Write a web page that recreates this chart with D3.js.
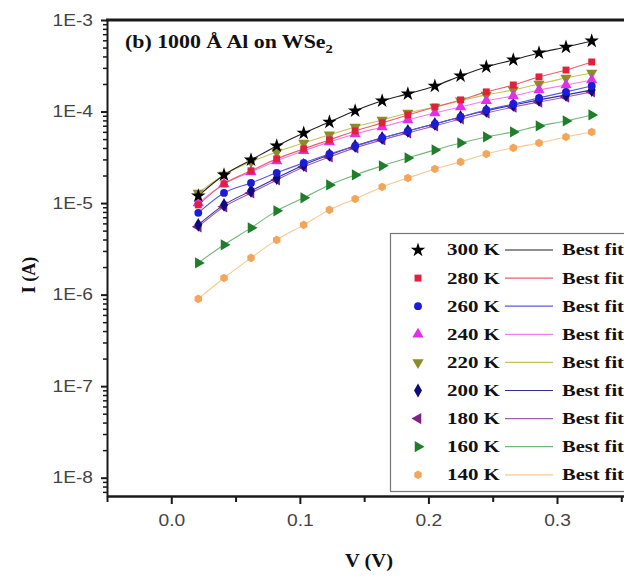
<!DOCTYPE html>
<html>
<head>
<meta charset="utf-8">
<script src="https://cdn.jsdelivr.net/npm/d3@7"></script>
<style>
  html, body { margin: 0; padding: 0; background: #fff; }
  svg { display: block; }
</style>
</head>
<body>
<svg id="chart" width="624" height="578"></svg>
<script>
// Bias voltage (V) of each measured point
const voltage = [0.021, 0.041, 0.062, 0.082, 0.103, 0.123, 0.143, 0.164,
                 0.184, 0.205, 0.225, 0.245, 0.266, 0.286, 0.307, 0.327];

// Current (A) at each temperature
const I300 = [1.20e-5, 2.03e-5, 2.96e-5, 4.21e-5, 5.83e-5, 7.69e-5, 1.02e-4, 1.31e-4,
              1.56e-4, 1.90e-4, 2.45e-4, 3.07e-4, 3.66e-4, 4.37e-4, 5.07e-4, 5.90e-4];
const I280 = [9.55e-6, 1.62e-5, 2.25e-5, 3.04e-5, 3.91e-5, 4.90e-5, 6.14e-5, 7.52e-5,
              9.18e-5, 1.12e-4, 1.34e-4, 1.64e-4, 1.95e-4, 2.39e-4, 2.84e-4, 3.48e-4];
const I260 = [7.82e-6, 1.29e-5, 1.66e-5, 2.14e-5, 2.75e-5, 3.44e-5, 4.21e-5, 5.15e-5,
              6.14e-5, 7.33e-5, 8.73e-5, 1.04e-4, 1.21e-4, 1.41e-4, 1.64e-4, 1.90e-4];
const I240 = [1.00e-5, 1.62e-5, 2.19e-5, 2.89e-5, 3.72e-5, 4.66e-5, 5.69e-5, 6.79e-5,
              8.09e-5, 9.66e-5, 1.12e-4, 1.31e-4, 1.48e-4, 1.72e-4, 1.95e-4, 2.21e-4];
const I220 = [1.29e-5, 2.03e-5, 2.82e-5, 3.62e-5, 4.54e-5, 5.56e-5, 6.79e-5, 8.09e-5,
              9.66e-5, 1.12e-4, 1.31e-4, 1.52e-4, 1.72e-4, 2.00e-4, 2.33e-4, 2.64e-4];
const I200 = [5.78e-6, 9.55e-6, 1.36e-5, 1.88e-5, 2.61e-5, 3.36e-5, 4.21e-5, 5.15e-5,
              6.14e-5, 7.33e-5, 8.73e-5, 1.02e-4, 1.18e-4, 1.34e-4, 1.52e-4, 1.72e-4];
const I180 = [5.50e-6, 9.10e-6, 1.29e-5, 1.79e-5, 2.48e-5, 3.19e-5, 4.01e-5, 4.90e-5,
              5.83e-5, 6.97e-5, 8.30e-5, 9.66e-5, 1.12e-4, 1.27e-4, 1.44e-4, 1.64e-4];
const I160 = [2.22e-6, 3.50e-6, 5.36e-6, 8.22e-6, 1.14e-5, 1.58e-5, 2.03e-5, 2.55e-5,
              3.11e-5, 3.81e-5, 4.54e-5, 5.28e-5, 5.98e-5, 6.97e-5, 7.89e-5, 9.18e-5];
const I140 = [8.99e-7, 1.52e-6, 2.52e-6, 3.96e-6, 5.78e-6, 8.43e-6, 1.11e-5, 1.50e-5,
              1.88e-5, 2.36e-5, 2.82e-5, 3.44e-5, 4.01e-5, 4.54e-5, 5.28e-5, 5.98e-5];

const temperatureLabels = ["300 K", "280 K", "260 K", "240 K", "220 K", "200 K", "180 K", "160 K", "140 K"];
const currents = [I300, I280, I260, I240, I220, I200, I180, I160, I140];
const fitLabel = "Best fit";

const yTickValues = [1e-8, 1e-7, 1e-6, 1e-5, 1e-4, 1e-3];
const yTickLabels = ["1E-8", "1E-7", "1E-6", "1E-5", "1E-4", "1E-3"];
const xTickValues = [0.0, 0.1, 0.2, 0.3];
const xTickLabels = ["0.0", "0.1", "0.2", "0.3"];
const xMinorValues = [-0.05, 0.05, 0.15, 0.25, 0.35];

// Marker styles, one per temperature
const symbolHexagon = {
  draw(ctx, size) {
    const r = Math.sqrt(size * 2 / (3 * Math.sqrt(3)));
    for (let i = 0; i < 6; i++) {
      const a = Math.PI / 3 * i + Math.PI / 6;
      const px = r * Math.cos(a), py = r * Math.sin(a);
      if (i === 0) ctx.moveTo(px, py); else ctx.lineTo(px, py);
    }
    ctx.closePath();
  }
};
const styles = [
  { color: "#000000", line: "#222222", type: d3.symbolStar,     size: 65, rot: 0 },
  { color: "#e0203c", line: "#e86070", type: d3.symbolSquare,   size: 48, rot: 0 },
  { color: "#1c1cd8", line: "#5a5ae0", type: d3.symbolCircle,   size: 48, rot: 0 },
  { color: "#e030e8", line: "#f080f0", type: d3.symbolTriangle, size: 55, rot: 0 },
  { color: "#8c8c28", line: "#c8c060", type: d3.symbolTriangle, size: 55, rot: 180 },
  { color: "#0c0c80", line: "#30309a", type: d3.symbolDiamond,  size: 55, rot: 0 },
  { color: "#80208a", line: "#a060b0", type: d3.symbolTriangle, size: 55, rot: -90 },
  { color: "#1e7e2a", line: "#70b878", type: d3.symbolTriangle, size: 55, rot: 90 },
  { color: "#f5a55a", line: "#f8c890", type: symbolHexagon,     size: 48, rot: 0 }
];

(function draw() {
  const svg = d3.select("#chart");
  const pLeft = 107, pTop = 20, pBottom = 496, pRight = 647;

  const x = d3.scaleLinear().domain([-0.05, 0.37]).range([pLeft, pRight]);
  const y = d3.scaleLog().domain([Math.pow(10, -8.2), 1e-3]).range([pBottom, pTop]);

  const serif = "'Liberation Serif', 'Times New Roman', serif";
  const sans = "'Liberation Sans', Arial, sans-serif";
  const axisColor = "#1a1a1a";

  // Stretch a text element horizontally so that it spans the given width
  function fitWidth(node, w, ax, ay) {
    const len = node.getComputedTextLength();
    const s = w / len;
    d3.select(node).attr("transform", `translate(${ax},${ay}) scale(${s},1) translate(${-ax},${-ay})`);
  }

  svg.append("defs").append("clipPath").attr("id", "plotClip")
    .append("rect").attr("x", pLeft).attr("y", pTop)
    .attr("width", pRight - pLeft).attr("height", pBottom - pTop);

  // Minor ticks on y (2..9 per decade)
  const yMinor = [];
  for (let e = -9; e <= -4; e++) for (let m = 2; m <= 9; m++) {
    const v = m * Math.pow(10, e);
    if (v > y.domain()[0] && v < y.domain()[1]) yMinor.push(v);
  }

  const yMinorG = svg.append("g").attr("transform", `translate(${pLeft},0)`)
    .call(d3.axisLeft(y).tickValues(yMinor).tickSize(4).tickSizeOuter(0).tickFormat(""));
  yMinorG.select(".domain").remove();
  yMinorG.selectAll("line").attr("stroke", axisColor).attr("stroke-width", 1.5);

  const yAxisG = svg.append("g").attr("transform", `translate(${pLeft},0)`)
    .call(d3.axisLeft(y).tickValues(yTickValues).tickSize(6).tickSizeOuter(0).tickPadding(8)
      .tickFormat((d, i) => yTickLabels[i]));
  yAxisG.select(".domain").attr("stroke", axisColor).attr("stroke-width", 2);
  yAxisG.selectAll("line").attr("stroke", axisColor).attr("stroke-width", 2);
  yAxisG.selectAll("text")
    .attr("font-family", sans).attr("font-size", 16).attr("fill", "#444")
    .each(function() {
      const tx = +this.getAttribute("x");
      d3.select(this).attr("transform", `translate(${tx},0) scale(1.2,1) translate(${-tx},0)`);
    });

  const xMinorG = svg.append("g").attr("transform", `translate(0,${pBottom})`)
    .call(d3.axisBottom(x).tickValues(xMinorValues).tickSize(6).tickSizeOuter(0).tickFormat(""));
  xMinorG.select(".domain").remove();
  xMinorG.selectAll("line").attr("stroke", axisColor).attr("stroke-width", 2);

  const xAxisG = svg.append("g").attr("transform", `translate(0,${pBottom})`)
    .call(d3.axisBottom(x).tickValues(xTickValues).tickSize(8).tickSizeOuter(0).tickPadding(11)
      .tickFormat((d, i) => xTickLabels[i]));
  xAxisG.select(".domain").attr("stroke", axisColor).attr("stroke-width", 2.5);
  xAxisG.selectAll("line").attr("stroke", axisColor).attr("stroke-width", 2);
  xAxisG.selectAll("text")
    .attr("font-family", sans).attr("font-size", 16).attr("fill", "#444")
    .attr("transform", "scale(1.2,1)");

  // Top frame line
  svg.append("line").attr("x1", pLeft - 1).attr("x2", pRight).attr("y1", pTop).attr("y2", pTop)
    .attr("stroke", axisColor).attr("stroke-width", 3);

  // Fit curves and data points
  const plot = svg.append("g").attr("clip-path", "url(#plotClip)");
  const lineGen = d3.line()
    .x(d => x(d[0])).y(d => y(d[1]))
    .curve(d3.curveMonotoneX);

  for (let k = currents.length - 1; k >= 0; k--) {
    const pts = voltage.map((v, i) => [v, currents[k][i]]);
    plot.append("path").datum(pts)
      .attr("d", lineGen).attr("fill", "none")
      .attr("stroke", styles[k].line).attr("stroke-width", 1.1);
  }
  for (let k = currents.length - 1; k >= 0; k--) {
    const st = styles[k];
    const sym = d3.symbol().type(st.type).size(st.size);
    const pts = voltage.map((v, i) => [v, currents[k][i]]);
    plot.append("g").selectAll("path").data(pts).join("path")
      .attr("d", sym)
      .attr("transform", d => `translate(${x(d[0])},${y(d[1])}) rotate(${st.rot})`)
      .attr("fill", st.color);
  }

  // Panel title
  const title = svg.append("text")
    .attr("x", 125).attr("y", 48)
    .attr("font-family", serif).attr("font-weight", "bold").attr("font-size", 18).attr("fill", "#111");
  title.append("tspan").text("(b) 1000 Å Al on WSe");
  title.append("tspan").attr("font-size", 12).attr("dy", 5).text("2");
  fitWidth(title.node(), 208, 125, 48);

  // Axis titles
  svg.append("text")
    .attr("transform", "translate(35,275) rotate(-90)")
    .attr("text-anchor", "middle")
    .attr("font-family", serif).attr("font-weight", "bold").attr("font-size", 18).attr("fill", "#111")
    .text("I (A)");

  const xTitle = svg.append("text")
    .attr("x", 369).attr("y", 567).attr("text-anchor", "middle")
    .attr("font-family", serif).attr("font-weight", "bold").attr("font-size", 18).attr("fill", "#111")
    .text("V (V)");
  fitWidth(xTitle.node(), 48, 369, 567);

  // Legend
  const legend = svg.append("g");
  legend.append("rect")
    .attr("x", 390.5).attr("y", 233.5).attr("width", 260).attr("height", 258)
    .attr("fill", "#fff").attr("stroke", "#777").attr("stroke-width", 1.2);

  temperatureLabels.forEach((lab, k) => {
    const st = styles[k];
    const cy = 250 + k * 28.1;
    legend.append("path")
      .attr("d", d3.symbol().type(st.type).size(st.size)())
      .attr("transform", `translate(418,${cy}) rotate(${st.rot})`)
      .attr("fill", st.color);
    const t = legend.append("text")
      .attr("x", 447).attr("y", cy + 5.5)
      .attr("font-family", serif).attr("font-weight", "bold").attr("font-size", 16).attr("fill", "#111")
      .text(lab);
    fitWidth(t.node(), 53, 447, cy);
    legend.append("line")
      .attr("x1", 505).attr("x2", 553).attr("y1", cy).attr("y2", cy)
      .attr("stroke", st.line).attr("stroke-width", 1.2);
    const b = legend.append("text")
      .attr("x", 562).attr("y", cy + 5.5)
      .attr("font-family", serif).attr("font-weight", "bold").attr("font-size", 16).attr("fill", "#111")
      .text(fitLabel);
    fitWidth(b.node(), 62, 562, cy);
  });
})();
</script>
</body>
</html>
